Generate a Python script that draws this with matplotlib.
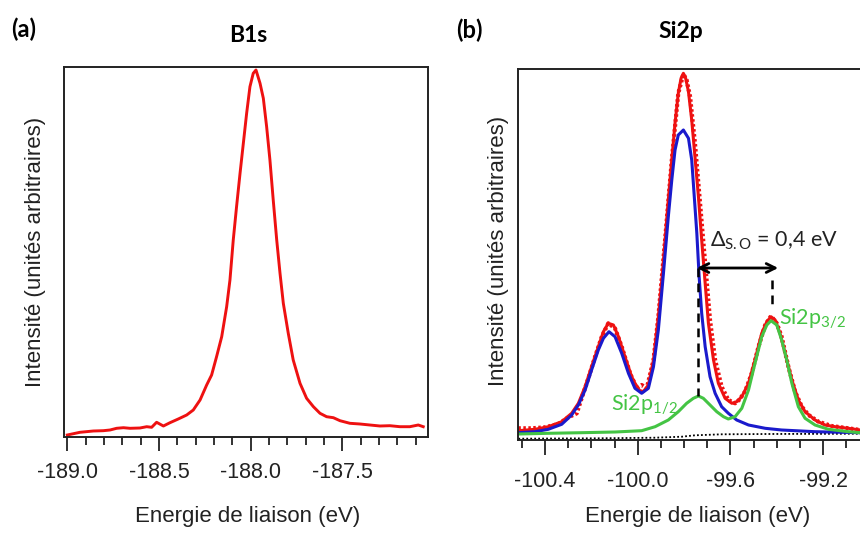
import matplotlib
matplotlib.use('Agg')
import matplotlib.pyplot as plt
from matplotlib.ticker import MultipleLocator, FormatStrFormatter

plt.rcParams['font.family'] = ['Liberation Sans', 'DejaVu Sans']
plt.rcParams['mathtext.fontset'] = 'custom'
plt.rcParams['mathtext.rm'] = 'Lato'
plt.rcParams['mathtext.it'] = 'Lato:italic'
plt.rcParams['mathtext.bf'] = 'Lato:bold'

# ---- (a) B1s spectrum ----
b1s_energy = [-189.000, -188.931, -188.858, -188.804, -188.767, -188.731, -188.694, -188.658,
              -188.604, -188.567, -188.540, -188.513, -188.476, -188.440, -188.395, -188.349,
              -188.313, -188.276, -188.240, -188.213, -188.186, -188.158, -188.131, -188.113,
              -188.095, -188.077, -188.058, -188.040, -188.022, -188.004, -187.986, -187.971,
              -187.949, -187.931, -187.913, -187.895, -187.877, -187.858, -187.840, -187.822,
              -187.795, -187.768, -187.731, -187.695, -187.658, -187.622, -187.586, -187.549,
              -187.513, -187.459, -187.404, -187.350, -187.295, -187.241, -187.186, -187.132,
              -187.086, -187.059]
b1s_intensity = [2.0, 4.7, 6.0, 6.3, 7.0, 8.7, 9.3, 8.7,
                 9.0, 10.3, 9.7, 14.7, 11.0, 14.3, 18.0, 22.0,
                 27.0, 37.0, 52.0, 62.0, 80.3, 100.3, 130.3, 157.0,
                 197.0, 230.3, 263.7, 293.7, 323.7, 350.3, 363.7, 367.0,
                 353.7, 338.7, 310.3, 277.0, 237.0, 197.0, 163.7, 133.7,
                 103.7, 77.0, 53.7, 38.7, 30.3, 23.7, 20.3, 19.3,
                 16.3, 13.7, 13.0, 12.0, 11.0, 11.3, 10.3, 10.3,
                 12.0, 10.3]

# ---- (b) Si2p spectrum ----
si_data_energy = [-100.515, -100.458, -100.400, -100.342, -100.299, -100.263, -100.242, -100.213,
                  -100.184, -100.155, -100.127, -100.098, -100.069, -100.033, -100.004, -99.983,
                  -99.961, -99.932, -99.911, -99.882, -99.853, -99.825, -99.803, -99.789,
                  -99.774, -99.753, -99.731, -99.709, -99.688, -99.666, -99.638, -99.609,
                  -99.580, -99.563, -99.537, -99.508, -99.479, -99.450, -99.425, -99.400,
                  -99.379, -99.350, -99.321, -99.292, -99.263, -99.220, -99.163, -99.091,
                  -99.040]
si_data_intensity = [11.7, 11.7, 12.7, 16.0, 22.7, 26.7, 41.7, 61.7,
                     83.3, 103.3, 116.7, 111.7, 93.3, 66.7, 51.7, 55.0,
                     51.7, 80.0, 123.3, 200.0, 280.0, 346.7, 366.0, 360.0,
                     343.3, 296.7, 236.7, 176.7, 120.0, 80.0, 53.3, 40.0,
                     36.7, 40.0, 48.3, 66.7, 93.3, 115.0, 124.0, 116.7,
                     103.3, 73.3, 48.3, 33.3, 25.0, 18.3, 14.0, 11.7,
                     10.0]

fit_energy = [-100.515, -100.443, -100.386, -100.328, -100.285, -100.256, -100.227, -100.199,
              -100.170, -100.148, -100.127, -100.105, -100.083, -100.055, -100.026, -99.997,
              -99.976, -99.954, -99.932, -99.911, -99.896, -99.882, -99.868, -99.853,
              -99.839, -99.825, -99.813, -99.803, -99.793, -99.781, -99.767, -99.753,
              -99.738, -99.724, -99.709, -99.695, -99.673, -99.652, -99.623, -99.594,
              -99.573, -99.551, -99.522, -99.494, -99.465, -99.443, -99.425, -99.407,
              -99.386, -99.364, -99.335, -99.307, -99.278, -99.235, -99.192, -99.148,
              -99.091, -99.040]
fit_intensity = [9.3, 10.7, 13.3, 18.3, 26.7, 36.7, 53.3, 73.3,
                 93.3, 108.3, 116.7, 115.0, 103.3, 83.3, 63.3, 50.0,
                 48.3, 55.0, 80.0, 123.3, 160.0, 200.0, 240.0, 280.0,
                 316.7, 346.7, 361.7, 366.7, 361.7, 348.3, 320.0, 283.3,
                 243.3, 200.0, 156.7, 116.7, 80.0, 56.7, 41.7, 36.7,
                 38.3, 43.3, 56.7, 80.0, 106.7, 118.3, 123.3, 120.0,
                 106.7, 86.7, 60.0, 40.0, 28.3, 20.0, 15.0, 13.3,
                 11.7, 10.0]

blue_energy = [-100.515, -100.443, -100.386, -100.328, -100.285, -100.256, -100.227, -100.199,
               -100.170, -100.148, -100.124, -100.098, -100.069, -100.040, -100.012, -99.983,
               -99.954, -99.932, -99.911, -99.889, -99.868, -99.853, -99.839, -99.825,
               -99.803, -99.781, -99.767, -99.757, -99.745, -99.735, -99.724, -99.709,
               -99.688, -99.666, -99.638, -99.609, -99.573, -99.522, -99.450, -99.379,
               -99.235, -99.040]
blue_intensity = [7.3, 8.3, 10.7, 15.7, 25.0, 35.0, 50.0, 70.0,
                  90.0, 101.7, 108.3, 103.3, 86.7, 66.7, 51.7, 46.7,
                  51.7, 73.3, 110.0, 166.7, 223.3, 260.0, 290.0, 305.0,
                  310.0, 301.7, 280.0, 246.7, 206.7, 163.3, 126.7, 93.3,
                  63.3, 46.7, 33.3, 26.7, 20.0, 15.0, 11.7, 10.0,
                  8.3, 7.3]

green_energy = [-100.515, -100.386, -100.242, -100.098, -99.983, -99.925, -99.868, -99.825,
                -99.789, -99.760, -99.738, -99.717, -99.688, -99.659, -99.630, -99.609,
                -99.580, -99.551, -99.522, -99.494, -99.465, -99.443, -99.425, -99.400,
                -99.379, -99.357, -99.335, -99.307, -99.278, -99.235, -99.177, -99.091,
                -99.040]
green_intensity = [6.0, 6.7, 7.3, 8.0, 9.3, 13.3, 20.0, 28.3,
                   36.7, 41.7, 44.0, 41.7, 35.0, 28.3, 23.3, 21.0,
                   23.3, 31.7, 50.0, 76.7, 103.3, 115.0, 119.3, 115.0,
                   100.0, 80.0, 56.7, 33.3, 21.7, 15.0, 10.7, 8.3,
                   7.3]

bg_energy = [-100.515, -100.170, -99.925, -99.810, -99.753, -99.638, -99.436, -99.040]
bg_intensity = [1.3, 1.7, 2.3, 3.3, 4.7, 5.7, 6.0, 6.3]

# peak positions used for the spin-orbit splitting marker
p12_energy, p12_top = -99.738, 44.0
p32_energy, p32_top = -99.420, 130.0
arrow_level = 172.0

red = '#ee1111'
blue = '#1a1acc'
green = '#44c444'

fig = plt.figure(figsize=(8.6, 5.33), dpi=100)
W, H = 860, 533

def px_axes(x0, y0, x1, y1):
    return fig.add_axes([x0 / W, 1 - y1 / H, (x1 - x0) / W, (y1 - y0) / H])

ax1 = px_axes(64, 67, 428, 437)
ax2 = px_axes(518, 69, 876, 440)

# panel (a)
ax1.plot(b1s_energy, b1s_intensity, color=red, lw=2.1)
ax1.set_xlim(-189.018, -187.033)
ax1.set_ylim(0, 370)
ax1.xaxis.set_major_locator(MultipleLocator(0.5))
ax1.xaxis.set_minor_locator(MultipleLocator(0.1))

# panel (b)
ax2.plot(bg_energy, bg_intensity, color='k', lw=1.3, ls=(0, (1, 1.2)))
ax2.plot(si_data_energy, si_data_intensity, color=red, lw=3.0, ls=(0, (0.6, 0.6)))
ax2.plot(fit_energy, fit_intensity, color=red, lw=2.2)
ax2.plot(blue_energy, blue_intensity, color=blue, lw=2.2)
ax2.plot(green_energy, green_intensity, color=green, lw=2.2)
ax2.set_xlim(-100.5165, -98.972)
ax2.set_ylim(0, 371)
ax2.xaxis.set_major_locator(MultipleLocator(0.4))
ax2.xaxis.set_minor_locator(MultipleLocator(0.1))

# spin-orbit splitting
ax2.plot([p12_energy, p12_energy], [arrow_level, p12_top], color='k', lw=1.8, ls=(0, (3.5, 2.5)))
ax2.plot([p32_energy, p32_energy], [arrow_level - 12, p32_top], color='k', lw=1.8, ls=(0, (3.5, 2.5)))
ax2.annotate('', xy=(-99.394, arrow_level), xytext=(-99.745, arrow_level),
             arrowprops=dict(arrowstyle='<->', color='k', lw=2.0, mutation_scale=16,
                             shrinkA=0, shrinkB=0))
ax2.text(-99.690, 199, r'$\Delta_{\mathrm{S.O}}$ = 0,4 eV', family='Lato', fontsize=15.5,
         color='#222222', ha='left', va='center')
ax2.text(-99.392, 121, r'Si2p$_{\mathrm{3/2}}$', family='Lato', fontsize=15.5,
         color=green, ha='left', va='center')
ax2.text(-100.115, 35, r'Si2p$_{\mathrm{1/2}}$', family='Lato', fontsize=15.5,
         color=green, ha='left', va='center')

for ax in (ax1, ax2):
    ax.xaxis.set_major_formatter(FormatStrFormatter('%.1f'))
    ax.set_yticks([])
    ax.tick_params(axis='x', which='major', direction='out', length=10, width=1.3,
                   labelsize=15.5, pad=8, color='#222222', labelcolor='#222222')
    ax.tick_params(axis='x', which='minor', direction='out', length=5.5, width=1.3,
                   color='#222222')
    for s in ax.spines.values():
        s.set_linewidth(1.4)
        s.set_color('#222222')
    ax.set_xlabel('Energie de liaison (eV)', fontsize=16, color='#222222')
    ax.set_ylabel('Intensité (unités arbitraires)', fontsize=16, color='#222222')

ax2.tick_params(axis='x', which='major', length=11, pad=11)
ax2.tick_params(axis='x', which='minor', length=6)

ax1.xaxis.set_label_coords(0.505, -0.186)
ax1.yaxis.set_label_coords(-0.049, 0.5)
ax2.xaxis.set_label_coords(0.501, -0.178)
ax2.yaxis.set_label_coords(-0.026, 0.51)

# panel labels and titles
fig.text(11 / W, 1 - 29 / H, '(a)', family='Lato', weight='bold', fontsize=17, va='center', ha='left')
fig.text(248 / W, 1 - 36 / H, 'B1s', family='Lato', weight='bold', fontsize=16.5, va='center', ha='center')
fig.text(456 / W, 1 - 30 / H, '(b)', family='Lato', weight='bold', fontsize=17, va='center', ha='left')
fig.text(681 / W, 1 - 32 / H, 'Si2p', family='Lato', weight='bold', fontsize=16.5, va='center', ha='center')

fig.savefig('out.png', dpi=100)
